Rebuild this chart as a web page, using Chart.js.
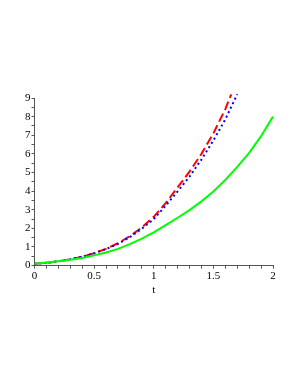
<!DOCTYPE html>
<html>
<head>
<meta charset="utf-8">
<script src="https://cdn.jsdelivr.net/npm/chart.js@4"></script>
<style>
  html, body { margin: 0; padding: 0; background: #fff; }
  #wrap { width: 298px; height: 385px; }
</style>
</head>
<body>
<div id="wrap"><canvas id="plot"></canvas></div>
<script>
// values
var tGreen = [0, 0.1, 0.2, 0.3, 0.4, 0.5, 0.6, 0.7, 0.8, 0.9, 1.0, 1.1, 1.2, 1.3, 1.4, 1.5, 1.6, 1.7, 1.8, 1.9, 2.0];
var yGreen = [0.1, 0.16, 0.23, 0.31, 0.41, 0.55, 0.7, 0.9, 1.15, 1.45, 1.78, 2.17, 2.57, 2.98, 3.45, 3.98, 4.6, 5.3, 6.05, 6.95, 8.0];

var tRed = [0, 0.1, 0.2, 0.3, 0.4, 0.5, 0.6, 0.7, 0.8, 0.9, 1.0, 1.1, 1.2, 1.3, 1.4, 1.5, 1.6, 1.65];
var yRed = [0.1, 0.15, 0.23, 0.34, 0.48, 0.66, 0.9, 1.2, 1.58, 2.05, 2.62, 3.35, 4.2, 5.05, 6.0, 7.1, 8.4, 9.2];

var tBlue = [0, 0.1, 0.2, 0.3, 0.4, 0.5, 0.6, 0.7, 0.8, 0.9, 1.0, 1.1, 1.2, 1.3, 1.4, 1.5, 1.6, 1.7];
var yBlue = [0.1, 0.15, 0.23, 0.34, 0.48, 0.66, 0.89, 1.17, 1.53, 1.98, 2.5, 3.22, 3.98, 4.78, 5.7, 6.72, 7.85, 9.2];

var xLabels = [0, 0.5, 1, 1.5, 2];
var yLabels = [0, 1, 2, 3, 4, 5, 6, 7, 8, 9];

function pts(t, y) {
    return t.map((x, i) => {
        return {x: x, y: y[i]}
    });
}

function hasLabel(list, v) {
    return list.some(l => Math.abs(l - v) < 1e-6);
}

var axisColor = "#555";
var serif = "'Liberation Serif', 'Times New Roman', serif";
var chart = new Chart(document.getElementById("plot"), {
    type: "line",
    data: {
        datasets: [
        {
            data: pts(tGreen, yGreen),
            borderColor: "#00ff00",
            borderWidth: 2,
            pointRadius: 0,
            clip: false,
        },
        {
            data: pts(tBlue, yBlue),
            borderColor: "#0000ff",
            borderWidth: 2,
            borderDash: [2, 3],
            pointRadius: 0,
            clip: false,
        },
        {
            data: pts(tRed, yRed),
            borderColor: "#ff0000",
            borderWidth: 2,
            borderDash: [9, 4],
            pointRadius: 0,
            clip: false,
        },
        ]
    },
    options: {
        responsive: true,
        maintainAspectRatio: false,
        animation: false,
        layout: {
            padding: {top: 98, left: 24, right: 25, bottom: 88}
        },
        scales: {
            x: {
                type: "linear",
                min: 0,
                max: 2,
                ticks: {
                    stepSize: 0.1,
                    autoSkip: false,
                    maxRotation: 0,
                    padding: 1,
                    color: "#000",
                    font: {family: serif, size: 11},
                    callback: function(v) {
                        return hasLabel(xLabels, v) ? String(Math.round(v * 10) / 10) : "";
                    }
                },
                grid: {
                    drawOnChartArea: false,
                    drawTicks: true,
                    tickLength: 3,
                    tickColor: axisColor,
                },
                border: {display: true, color: axisColor, width: 1},
                title: {
                    display: true,
                    text: "t",
                    color: "#000",
                    padding: {top: 0, bottom: 0},
                    font: {family: serif, size: 11},
                }
            },
            y: {
                min: 0,
                max: 9,
                ticks: {
                    stepSize: 0.5,
                    autoSkip: false,
                    padding: 1,
                    color: "#000",
                    font: {family: serif, size: 11},
                    callback: function(v) {
                        return hasLabel(yLabels, v) ? String(v) : "";
                    }
                },
                grid: {
                    drawOnChartArea: false,
                    drawTicks: true,
                    tickLength: 3,
                    tickColor: axisColor,
                },
                border: {display: true, color: axisColor, width: 1},
            }
        },
        plugins: {
            legend: {display: false},
            tooltip: {enabled: false}
        }
    }
});
</script>
</body>
</html>
